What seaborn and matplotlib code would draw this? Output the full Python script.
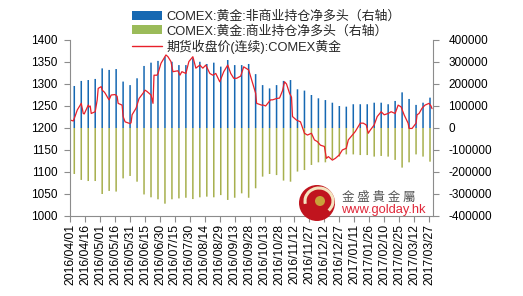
import numpy as np
import pandas as pd
import matplotlib
matplotlib.use("Agg")
import matplotlib.pyplot as plt
import matplotlib.dates as mdates
from matplotlib.patches import Patch, Ellipse, Arc
from matplotlib.lines import Line2D
import seaborn as sns

# ---------------- data ----------------
bar_start = "2016-04-05"
noncomm_net = [191, 214, 218, 223, 271, 264, 268, 211, 195, 226, 282, 297, 305, 324,
               301, 286, 286, 317, 301, 291, 297, 279, 309, 286, 286, 291, 245, 195,
               180, 195, 214, 218, 176, 170, 150, 135, 127, 115, 100, 97, 108, 108,
               108, 115, 115, 108, 123, 162, 132, 105, 115, 138]
comm_net = [-209, -236, -241, -241, -300, -286, -289, -229, -218, -244, -302, -315,
            -324, -344, -324, -320, -317, -323, -315, -312, -315, -305, -327, -317,
            -297, -317, -274, -221, -209, -214, -239, -244, -198, -191, -168, -156,
            -156, -142, -130, -120, -120, -123, -123, -130, -127, -130, -145, -180,
            -156, -120, -130, -153]
noncomm_net = [v * 1000 for v in noncomm_net]
comm_net = [v * 1000 for v in comm_net]

price_dates = [
    "2016-04-01", "2016-04-04", "2016-04-06", "2016-04-08", "2016-04-11", "2016-04-12",
    "2016-04-14", "2016-04-15", "2016-04-19", "2016-04-20", "2016-04-21", "2016-04-22",
    "2016-04-26", "2016-04-28", "2016-04-29", "2016-05-02", "2016-05-03", "2016-05-05",
    "2016-05-06", "2016-05-09", "2016-05-10", "2016-05-12", "2016-05-16", "2016-05-18",
    "2016-05-19", "2016-05-23", "2016-05-24", "2016-05-26", "2016-05-31", "2016-06-01",
    "2016-06-02", "2016-06-06", "2016-06-08", "2016-06-09", "2016-06-13", "2016-06-15",
    "2016-06-17", "2016-06-21", "2016-06-23", "2016-06-24", "2016-06-27", "2016-06-28",
    "2016-07-01", "2016-07-05", "2016-07-06", "2016-07-08", "2016-07-11", "2016-07-13",
    "2016-07-18", "2016-07-20", "2016-07-22", "2016-07-26", "2016-07-29", "2016-08-02",
    "2016-08-05", "2016-08-09", "2016-08-12", "2016-08-15", "2016-08-19", "2016-08-22",
    "2016-08-25", "2016-08-29", "2016-09-02", "2016-09-06", "2016-09-09", "2016-09-12",
    "2016-09-15", "2016-09-19", "2016-09-22", "2016-09-27", "2016-09-30", "2016-10-04",
    "2016-10-05", "2016-10-10", "2016-10-12", "2016-10-14", "2016-10-19", "2016-10-21",
    "2016-10-25", "2016-10-28", "2016-10-31", "2016-11-02", "2016-11-04", "2016-11-07",
    "2016-11-09", "2016-11-10", "2016-11-14", "2016-11-18", "2016-11-22", "2016-11-25",
    "2016-11-29", "2016-12-02", "2016-12-05", "2016-12-08", "2016-12-12", "2016-12-14",
    "2016-12-16", "2016-12-20", "2016-12-23", "2016-12-27", "2016-12-30", "2017-01-03",
    "2017-01-05", "2017-01-09", "2017-01-12", "2017-01-17", "2017-01-20", "2017-01-23",
    "2017-01-25", "2017-01-27", "2017-01-31", "2017-02-03", "2017-02-07", "2017-02-10",
    "2017-02-14", "2017-02-17", "2017-02-21", "2017-02-24", "2017-02-27", "2017-03-02",
    "2017-03-06", "2017-03-07", "2017-03-10", "2017-03-14", "2017-03-15", "2017-03-17",
    "2017-03-20", "2017-03-23", "2017-03-27", "2017-03-29", "2017-03-30"]
price_values = [
    1218, 1216, 1228, 1241, 1252, 1256,
    1233, 1232, 1252, 1248, 1250, 1233,
    1237, 1264, 1290, 1294, 1286, 1282,
    1279, 1267, 1264, 1275, 1276, 1272,
    1256, 1252, 1226, 1214, 1210, 1212,
    1230, 1245, 1260, 1267, 1279, 1286,
    1283, 1275, 1256, 1320, 1320, 1324,
    1347, 1362, 1366, 1362, 1351, 1328,
    1330, 1320, 1328, 1324, 1351, 1362,
    1336, 1343, 1336, 1343, 1324, 1320,
    1324, 1305, 1328, 1343, 1324, 1313,
    1313, 1318, 1339, 1332, 1309, 1279,
    1256, 1252, 1252, 1250, 1264, 1264,
    1267, 1268, 1285, 1305, 1300, 1279,
    1270, 1226, 1218, 1214, 1188, 1184,
    1188, 1173, 1169, 1161, 1158, 1131,
    1135, 1127, 1131, 1139, 1150, 1154,
    1173, 1184, 1192, 1211, 1211, 1207,
    1188, 1195, 1207, 1226, 1237, 1230,
    1233, 1237, 1233, 1252, 1248, 1230,
    1211, 1199, 1199, 1211, 1230, 1233,
    1245, 1252, 1256, 1250, 1244]

tick_start = "2016-04-01"
n_ticks = 25

left_ticks = [1000, 1050, 1100, 1150, 1200, 1250, 1300, 1350, 1400]
right_ticks = [-400000, -300000, -200000, -100000, 0, 100000, 200000, 300000, 400000]

labels = ["COMEX:黄金:非商业持仓净多头（右轴）",
          "COMEX:黄金:商业持仓净多头（右轴）",
          "期货收盘价(连续):COMEX黄金"]

# ---------------- build frames ----------------
bar_dates = pd.date_range(bar_start, periods=len(noncomm_net), freq="7D")
df_bar = pd.DataFrame({"x": mdates.date2num(bar_dates),
                       "noncomm": noncomm_net, "comm": comm_net})
df_price = pd.DataFrame({"x": mdates.date2num(pd.to_datetime(price_dates)),
                         "price": price_values})
tick_dates = pd.date_range(tick_start, periods=n_ticks, freq="15D")

# ---------------- style ----------------
sns.set_theme(style="white")
plt.rcParams["font.family"] = ["Liberation Sans", "Noto Sans CJK SC", "DejaVu Sans"]
plt.rcParams["axes.unicode_minus"] = False

BLUE = "#1668b2"
GREEN = "#a7b04e"
GREEN_LEG = "#9bbb59"
RED = "#e8202a"
GRID = "#8c8c8c"
FS = 8.5

fig = plt.figure(figsize=(5.23, 2.96), dpi=100)
ax = fig.add_axes([70/523, 1-216/296, (433-70)/523, (216-40)/296])
ax2 = ax.twinx()

# bars on right axis
sns.barplot(data=df_bar, x="x", y="noncomm", native_scale=True, width=0.22,
            color=BLUE, saturation=1, linewidth=0, errorbar=None, ax=ax2)
sns.barplot(data=df_bar, x="x", y="comm", native_scale=True, width=0.22,
            color=GREEN, saturation=1, linewidth=0, errorbar=None, ax=ax2)
for p in ax2.patches:
    p.set_snap(False)

# price line on left axis
sns.lineplot(data=df_price, x="x", y="price", color=RED, linewidth=0.9, ax=ax)

ax.set_zorder(ax2.get_zorder() + 1)
ax.patch.set_visible(False)

xmin = mdates.date2num(pd.Timestamp("2016-04-01")) - 0.3
xmax = mdates.date2num(pd.Timestamp("2017-03-31"))
ax.set_xlim(xmin, xmax)
ax.set_ylim(1000, 1400)
ax2.set_ylim(-400000, 400000)

ax.set_yticks(left_ticks)
ax.set_yticklabels([str(v) for v in left_ticks], fontsize=FS)
ax2.set_yticks(right_ticks)
ax2.set_yticklabels([str(v) for v in right_ticks], fontsize=FS)
ax.set_xticks(mdates.date2num(tick_dates))
ax.set_xticklabels([d.strftime("%Y/%m/%d") for d in tick_dates], rotation=90,
                   fontsize=8.8)

for a in (ax, ax2):
    a.set_xlabel("")
    a.set_ylabel("")
    for s in a.spines.values():
        s.set_color(GRID)
        s.set_linewidth(0.8)
    a.spines["top"].set_visible(False)

ax.spines["right"].set_visible(False)
ax2.spines["left"].set_visible(False)
ax2.spines["bottom"].set_visible(False)

ax.tick_params(axis="x", length=4, width=0.8, color=GRID, direction="out",
               pad=2, labelcolor="black", bottom=True)
ax.tick_params(axis="y", length=4, width=0.8, color=GRID, direction="out",
               pad=5, labelcolor="black", left=True)
ax2.tick_params(axis="y", length=4, width=0.8, color=GRID, direction="out",
                pad=7, labelcolor="black", right=True)
ax2.tick_params(axis="x", bottom=False, labelbottom=False)

# legend
handles = [Patch(facecolor=BLUE, edgecolor="none"),
           Patch(facecolor=GREEN_LEG, edgecolor="none"),
           Line2D([0], [0], color=RED, linewidth=1)]
fig.legend(handles, labels, loc="upper left", bbox_to_anchor=(0.236, 0.995),
           frameon=False, fontsize=9.3, handlelength=2.3, handleheight=0.7,
           handletextpad=0.3, labelspacing=0.15, borderpad=0.2)

# watermark
fig.add_artist(Ellipse((317/523, 1-203/296), 36/523, 36/296, facecolor="#c0141e",
                       edgecolor="none", zorder=5, transform=fig.transFigure))
fig.add_artist(Arc((319/523, 1-201/296), 28/523, 26/296, theta1=-60, theta2=200,
                   color="#f4e4c0", linewidth=2.2, zorder=6,
                   transform=fig.transFigure))
fig.add_artist(Ellipse((320/523, 1-201/296), 10/523, 10/296, facecolor="#c9a23a",
                       edgecolor="none", zorder=7, transform=fig.transFigure))
fig.text(342/523, 1-197/296, "金 盛 貴 金 屬", fontsize=9, color="#555555",
         va="center", ha="left", family=["Noto Sans CJK TC", "DejaVu Sans"], zorder=8)
fig.text(341/523, 1-210/296, "www.golday.hk", fontsize=9.3, color="#e0283a",
         va="center", ha="left", zorder=8)

fig.savefig("out.png", dpi=100)
